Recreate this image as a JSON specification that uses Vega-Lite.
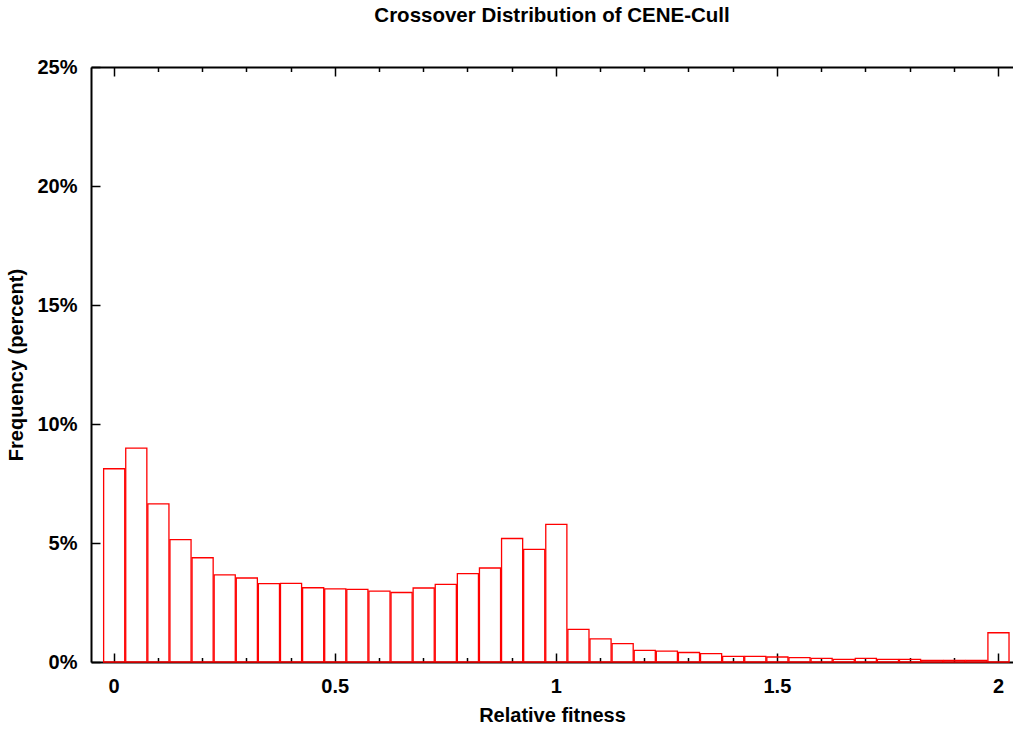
{
  "$schema": "https://vega.github.io/schema/vega-lite/v6.json",
  "autosize": {"type": "none"},
  "padding": {"left": 91, "top": 67, "right": 0, "bottom": 68},
  "width": 922,
  "height": 595,
  "title": {
    "text": "Crossover Distribution of CENE-Cull",
    "font": "Liberation Sans",
    "fontSize": 20.5,
    "fontWeight": "bold",
    "color": "black",
    "anchor": "middle",
    "offset": 31
  },
  "data": {
    "values": [
      {"lo": -0.025, "hi": 0.025, "pct": 8.12},
      {"lo": 0.025, "hi": 0.075, "pct": 8.99},
      {"lo": 0.075, "hi": 0.125, "pct": 6.64},
      {"lo": 0.125, "hi": 0.175, "pct": 5.14},
      {"lo": 0.175, "hi": 0.225, "pct": 4.38},
      {"lo": 0.225, "hi": 0.275, "pct": 3.66},
      {"lo": 0.275, "hi": 0.325, "pct": 3.53},
      {"lo": 0.325, "hi": 0.375, "pct": 3.29},
      {"lo": 0.375, "hi": 0.425, "pct": 3.30},
      {"lo": 0.425, "hi": 0.475, "pct": 3.12},
      {"lo": 0.475, "hi": 0.525, "pct": 3.07},
      {"lo": 0.525, "hi": 0.575, "pct": 3.05},
      {"lo": 0.575, "hi": 0.625, "pct": 2.98},
      {"lo": 0.625, "hi": 0.675, "pct": 2.92},
      {"lo": 0.675, "hi": 0.725, "pct": 3.11},
      {"lo": 0.725, "hi": 0.775, "pct": 3.26},
      {"lo": 0.775, "hi": 0.825, "pct": 3.71},
      {"lo": 0.825, "hi": 0.875, "pct": 3.95},
      {"lo": 0.875, "hi": 0.925, "pct": 5.19},
      {"lo": 0.925, "hi": 0.975, "pct": 4.73},
      {"lo": 0.975, "hi": 1.025, "pct": 5.78},
      {"lo": 1.025, "hi": 1.075, "pct": 1.37},
      {"lo": 1.075, "hi": 1.125, "pct": 0.97},
      {"lo": 1.125, "hi": 1.175, "pct": 0.77},
      {"lo": 1.175, "hi": 1.225, "pct": 0.49},
      {"lo": 1.225, "hi": 1.275, "pct": 0.46},
      {"lo": 1.275, "hi": 1.325, "pct": 0.40},
      {"lo": 1.325, "hi": 1.375, "pct": 0.35},
      {"lo": 1.375, "hi": 1.425, "pct": 0.24},
      {"lo": 1.425, "hi": 1.475, "pct": 0.24},
      {"lo": 1.475, "hi": 1.525, "pct": 0.21},
      {"lo": 1.525, "hi": 1.575, "pct": 0.18},
      {"lo": 1.575, "hi": 1.625, "pct": 0.15},
      {"lo": 1.625, "hi": 1.675, "pct": 0.11},
      {"lo": 1.675, "hi": 1.725, "pct": 0.15},
      {"lo": 1.725, "hi": 1.775, "pct": 0.11},
      {"lo": 1.775, "hi": 1.825, "pct": 0.11},
      {"lo": 1.825, "hi": 1.875, "pct": 0.07},
      {"lo": 1.875, "hi": 1.925, "pct": 0.07},
      {"lo": 1.925, "hi": 1.975, "pct": 0.07},
      {"lo": 1.975, "hi": 2.025, "pct": 1.23}
    ]
  },
  "layer": [
    {
      "mark": {"type": "bar", "filled": false, "color": "#ff0000", "strokeWidth": 1.3},
      "encoding": {
        "x": {
          "field": "lo",
          "type": "quantitative",
          "bin": "binned",
          "scale": {"domain": [-0.0513, 2.034], "nice": false, "zero": false},
          "axis": {
            "orient": "bottom",
            "title": "Relative fitness",
            "values": [0, 0.1, 0.2, 0.3, 0.4, 0.5, 0.6, 0.7, 0.8, 0.9, 1, 1.1, 1.2, 1.3, 1.4, 1.5, 1.6, 1.7, 1.8, 1.9, 2],
            "labelExpr": "indexof([0, 0.5, 1, 1.5, 2], datum.value) >= 0 ? '' + datum.value : ''",
            "tickSize": {"condition": {"test": "indexof([0, 0.5, 1, 1.5, 2], datum.value) >= 0", "value": -9}, "value": -4.5},
            "labelPadding": 23,
            "labelFlush": false,
            "labelOverlap": false,
            "titlePadding": 5
          }
        },
        "x2": {"field": "hi"},
        "y": {
          "field": "pct",
          "type": "quantitative",
          "scale": {"domain": [0, 25], "nice": false},
          "axis": {
            "title": "Frequency (percent)",
            "values": [0, 5, 10, 15, 20, 25],
            "labelExpr": "datum.value + '%'",
            "tickSize": -9,
            "labelPadding": 23,
            "titlePadding": 10
          }
        }
      }
    },
    {
      "mark": {"type": "bar", "opacity": 0},
      "encoding": {
        "x": {
          "field": "lo",
          "type": "quantitative",
          "bin": "binned",
          "axis": {
            "orient": "top",
            "title": null,
            "labels": false,
            "values": [0, 0.1, 0.2, 0.3, 0.4, 0.5, 0.6, 0.7, 0.8, 0.9, 1, 1.1, 1.2, 1.3, 1.4, 1.5, 1.6, 1.7, 1.8, 1.9, 2],
            "tickSize": {"condition": {"test": "indexof([0, 0.5, 1, 1.5, 2], datum.value) >= 0", "value": -9}, "value": -4.5}
          }
        },
        "x2": {"field": "hi"},
        "y": {"field": "pct", "type": "quantitative"}
      }
    }
  ],
  "resolve": {"axis": {"x": "independent"}},
  "config": {
    "view": {"stroke": null},
    "axis": {
      "grid": false,
      "domainColor": "black",
      "domainWidth": 2,
      "tickColor": "black",
      "tickWidth": 1.5,
      "labelFont": "Liberation Sans",
      "labelFontSize": 20,
      "labelFontWeight": "bold",
      "labelColor": "black",
      "titleFont": "Liberation Sans",
      "titleFontSize": 20,
      "titleFontWeight": "bold",
      "titleColor": "black"
    }
  }
}
